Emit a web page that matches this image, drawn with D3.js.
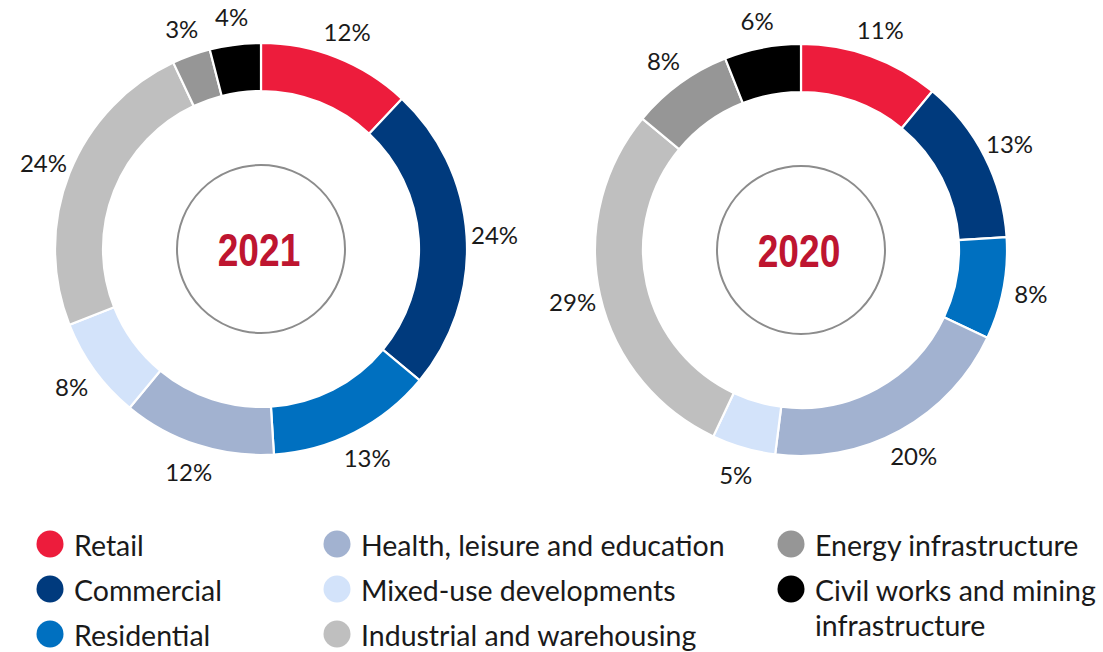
<!DOCTYPE html>
<html>
<head>
<meta charset="utf-8">
<script src="https://cdn.jsdelivr.net/npm/d3@7"></script>
<style>
  html, body { margin: 0; padding: 0; background: #fff; }
  svg { display: block; }
</style>
</head>
<body>
<svg id="chart" width="1103" height="652"></svg>
<script>
// sectors, in the order they go round the rings (clockwise from 12 o'clock)
const sectors = ["Retail", "Commercial", "Residential", "Health, leisure and education",
  "Mixed-use developments", "Industrial and warehousing", "Energy infrastructure",
  "Civil works and mining infrastructure"];
const share2021 = [12, 24, 13, 12, 8, 24, 3, 4];
const share2020 = [11, 13, 8, 20, 5, 29, 8, 6];
const years = ["2021", "2020"];
const sectorColors = ["#ED1C3C", "#003A7D", "#0070C0", "#A2B2D0", "#D3E3FA", "#BFBFBF", "#969696", "#000000"];

// legend layout: three columns, the last label wraps
const legendCols = [[0, 1, 2], [3, 4, 5], [6, 7]];
const legendLines = {
  7: ["Civil works and mining", "infrastructure"]
};

const width = 1103, height = 652;
const svg = d3.select("#chart");
const font = "Lato, 'Open Sans', sans-serif";

const color = d3.scaleOrdinal().domain(sectors).range(sectorColors);

const outerR = 206, innerR = 158, holeR = 84, labelR = 234;
const centers = [{ x: 261, y: 249 }, { x: 801, y: 250 }];

const pie = d3.pie().sort(null).value(d => d.value);
const arc = d3.arc().innerRadius(innerR).outerRadius(outerR);
const labelArc = d3.arc().innerRadius(labelR).outerRadius(labelR);

[share2021, share2020].forEach((vals, i) => {
  const data = sectors.map((s, j) => ({ key: s, value: vals[j] }));
  const g = svg.append("g")
    .attr("transform", `translate(${centers[i].x},${centers[i].y})`);

  g.selectAll("path.slice").data(pie(data)).join("path")
    .attr("class", "slice")
    .attr("d", arc)
    .attr("fill", d => color(d.data.key))
    .attr("stroke", "#fff")
    .attr("stroke-width", 2.2);

  g.selectAll("text.pct").data(pie(data)).join("text")
    .attr("class", "pct")
    .attr("transform", d => `translate(${labelArc.centroid(d)})`)
    .attr("text-anchor", "middle")
    .attr("dominant-baseline", "central")
    .style("font-family", font)
    .style("font-size", "24px")
    .style("fill", "#1a1a1a")
    .text(d => d.data.value + "%");

  // inner circle with the year
  g.append("circle")
    .attr("r", holeR)
    .attr("fill", "none")
    .attr("stroke", "#8c8c8c")
    .attr("stroke-width", 2);

  g.append("text")
    .attr("transform", "translate(-2,1) scale(0.79,1)")
    .attr("text-anchor", "middle")
    .attr("dominant-baseline", "central")
    .style("font-family", "'Liberation Sans', Arial, sans-serif")
    .style("font-weight", "bold")
    .style("font-size", "47px")
    .style("fill", "#BE1530")
    .text(years[i]);
});

// legend
const colX = [50, 337, 791];
const rowY0 = 546, rowGap = 45;

legendCols.forEach((col, ci) => {
  col.forEach((idx, ri) => {
    const key = sectors[idx];
    const row = svg.append("g")
      .attr("transform", `translate(${colX[ci]},${rowY0 + ri * rowGap})`);
    row.append("circle")
      .attr("cy", -2)
      .attr("r", 13.5)
      .attr("fill", color(key));
    const lines = legendLines[idx] || [key];
    const t = row.append("text")
      .attr("x", 24)
      .attr("y", 0)
      .style("font-family", font)
      .style("font-size", "28.5px")
      .style("fill", "#1a1a1a");
    lines.forEach((ln, k) => {
      t.append("tspan")
        .attr("x", 24)
        .attr("dy", k === 0 ? "0.35em" : 35)
        .text(ln);
    });
  });
});
</script>
</body>
</html>
